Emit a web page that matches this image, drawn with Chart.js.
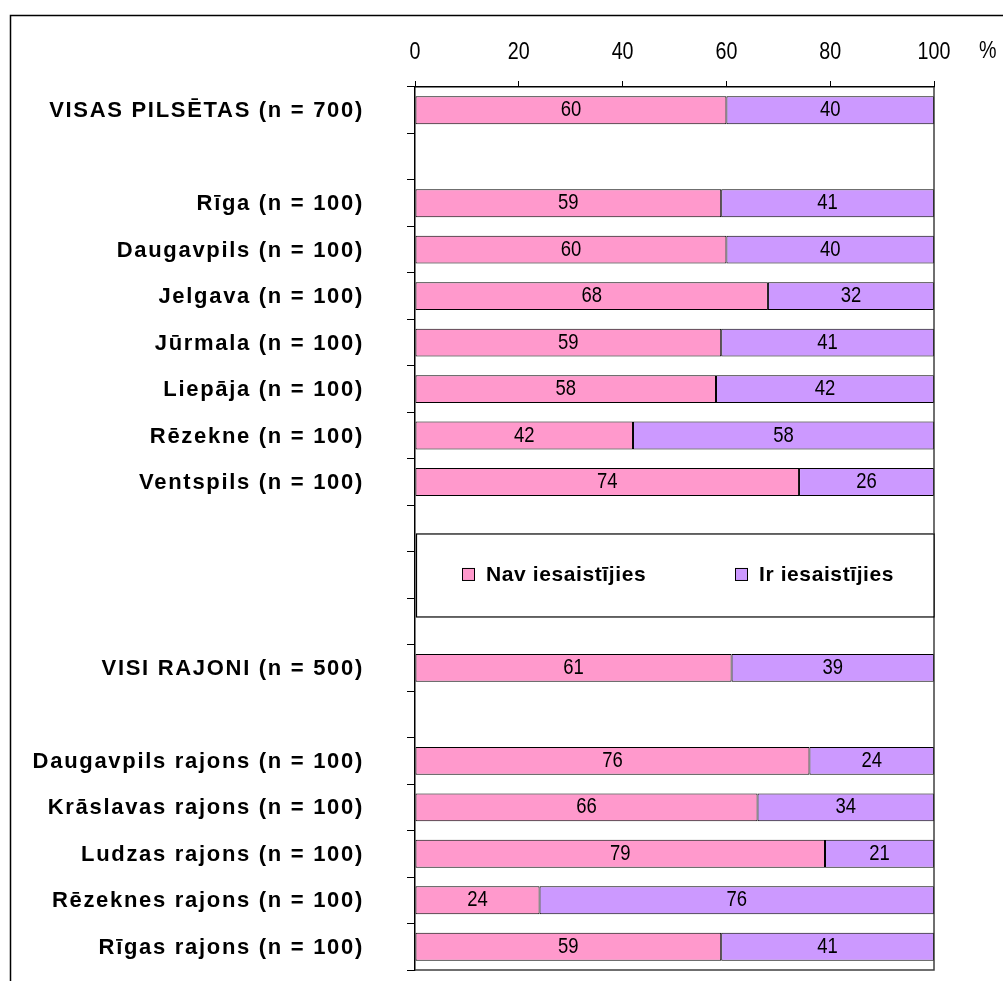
<!DOCTYPE html>
<html>
<head>
<meta charset="utf-8">
<script src="https://cdn.jsdelivr.net/npm/chart.js@4.4.1/dist/chart.umd.min.js"></script>
<style>
    html, body { margin: 0; padding: 0; background: #fff; }
    #wrap { width: 1003px; height: 981px; }
</style>
</head>
<body>
<div id="wrap"><canvas id="chart" width="1003" height="981"></canvas></div>
<script>
// data (empty rows are spacers, one of them holds the legend)
const categories = [
    'VISAS PILSĒTAS (n = 700)', '',
    'Rīga (n = 100)', 'Daugavpils (n = 100)', 'Jelgava (n = 100)', 'Jūrmala (n = 100)',
    'Liepāja (n = 100)', 'Rēzekne (n = 100)', 'Ventspils (n = 100)',
    '', '', '',
    'VISI RAJONI (n = 500)', '',
    'Daugavpils rajons (n = 100)', 'Krāslavas rajons (n = 100)', 'Ludzas rajons (n = 100)',
    'Rēzeknes rajons (n = 100)', 'Rīgas rajons (n = 100)'
];
const navIesaistijies = [60, null, 59, 60, 68, 59, 58, 42, 74, null, null, null, 61, null, 76, 66, 79, 24, 59];
const irIesaistijies  = [40, null, 41, 40, 32, 41, 42, 58, 26, null, null, null, 39, null, 24, 34, 21, 76, 41];
const seriesNames = ['Nav iesaistījies', 'Ir iesaistījies'];
const xTickValues = [0, 20, 40, 60, 80, 100];
const legendRow = 10;

const baseFont = "'Liberation Sans', Arial, sans-serif";

// the original uses a narrow face; squeeze regular text horizontally instead
function narrowText(ctx, text, x, y, squeeze) {
    ctx.save();
    ctx.translate(x, y);
    ctx.scale(squeeze, 1);
    ctx.fillText(text, 0, 0);
    ctx.restore();
}

const decorations = {
    id: 'decorations',
    beforeDraw(chart) {
        const ctx = chart.ctx;
        ctx.save();
        ctx.fillStyle = '#fff';
        ctx.fillRect(0, 0, chart.width, chart.height);
        // page frame
        ctx.strokeStyle = '#000';
        ctx.lineWidth = 1.5;
        ctx.beginPath();
        ctx.moveTo(10.5, chart.height);
        ctx.lineTo(10.5, 15.5);
        ctx.lineTo(chart.width, 15.5);
        ctx.stroke();
        ctx.restore();
    },
    afterDatasetsDraw(chart) {
        const ctx = chart.ctx;
        ctx.save();
        ctx.font = `22px ${baseFont}`;
        ctx.fillStyle = '#000';
        ctx.textAlign = 'center';
        ctx.textBaseline = 'middle';
        chart.data.datasets.forEach((ds, di) => {
            chart.getDatasetMeta(di).data.forEach((bar, i) => {
                if (ds.data[i] == null) return;
                const p = bar.getProps(['x', 'y', 'base'], true);
                narrowText(ctx, String(ds.data[i]), (p.x + p.base) / 2, p.y, 0.84);
            });
        });
        ctx.restore();
    },
    afterDraw(chart) {
        const ctx = chart.ctx;
        const area = chart.chartArea;
        const xs = chart.scales.x;
        const ys = chart.scales.y;
        ctx.save();

        // right and bottom edge of plot area
        ctx.strokeStyle = '#404040';
        ctx.lineWidth = 1.5;
        ctx.beginPath();
        ctx.moveTo(area.left, area.bottom);
        ctx.lineTo(area.right, area.bottom);
        ctx.lineTo(area.right, area.top);
        ctx.stroke();

        // top axis labels and the percent sign
        ctx.fillStyle = '#000';
        ctx.font = `24px ${baseFont}`;
        ctx.textAlign = 'center';
        ctx.textBaseline = 'middle';
        xs.ticks.forEach(t => {
            narrowText(ctx, String(t.value), xs.getPixelForValue(t.value), 52, 0.82);
        });
        ctx.textAlign = 'left';
        narrowText(ctx, '%', xs.right + 45, 51, 0.82);

        // category labels
        ctx.font = `bold 22px ${baseFont}`;
        ctx.letterSpacing = '1.7px';
        ctx.textAlign = 'right';
        categories.forEach((label, i) => {
            if (!label) return;
            ctx.fillText(label, area.left - 51, ys.getPixelForValue(i) + 1);
        });

        // legend box sitting in the spacer rows
        ctx.letterSpacing = '0px';
        const cy = ys.getPixelForValue(legendRow);
        const boxH = 83;
        ctx.fillStyle = '#fff';
        ctx.fillRect(area.left + 1, cy - boxH / 2, area.right - area.left - 1, boxH);
        ctx.strokeStyle = '#000';
        ctx.lineWidth = 1.2;
        ctx.strokeRect(area.left + 1.5, cy - boxH / 2 + 0.5, area.right - area.left - 1.5, boxH);

        const itemX = [area.left + 47, area.left + 320];
        ctx.font = `bold 21px ${baseFont}`;
        ctx.letterSpacing = '0.6px';
        ctx.textAlign = 'left';
        chart.data.datasets.forEach((ds, di) => {
            const x = itemX[di];
            ctx.fillStyle = ds.backgroundColor;
            ctx.fillRect(x, cy - 7, 13, 13);
            ctx.strokeStyle = '#000';
            ctx.lineWidth = 1;
            ctx.strokeRect(x + 0.5, cy - 6.5, 12, 12);
            ctx.fillStyle = '#000';
            ctx.fillText(ds.label, x + 24, cy);
        });
        ctx.restore();
    }
};

new Chart(document.getElementById('chart'), {
    type: 'bar',
    data: {
        labels: categories,
        datasets: [
            {
                label: seriesNames[0],
                data: navIesaistijies,
                backgroundColor: '#FF99CC',
                borderColor: '#000',
                borderWidth: 1,
                borderSkipped: false
            },
            {
                label: seriesNames[1],
                data: irIesaistijies,
                backgroundColor: '#CC99FF',
                borderColor: '#000',
                borderWidth: 1,
                borderSkipped: false
            }
        ]
    },
    options: {
        indexAxis: 'y',
        responsive: false,
        animation: false,
        devicePixelRatio: 1,
        datasets: { bar: { barPercentage: 0.6, categoryPercentage: 1 } },
        layout: { padding: { left: 405, right: 69, top: 37, bottom: 11 } },
        plugins: { legend: { display: false }, tooltip: { enabled: false } },
        scales: {
            x: {
                position: 'top',
                stacked: true,
                min: 0,
                max: 100,
                afterBuildTicks: s => { s.ticks = xTickValues.map(v => ({ value: v })); },
                afterFit: s => { s.height = 50; },
                grid: { drawOnChartArea: false, tickLength: 6, color: '#000', lineWidth: 1 },
                border: { color: '#000', width: 1.5 },
                ticks: { display: false }
            },
            y: {
                stacked: true,
                afterFit: s => { s.width = 10; },
                grid: { drawOnChartArea: false, offset: true, tickLength: 8, color: '#000', lineWidth: 1 },
                border: { color: '#000', width: 1.5 },
                ticks: { display: false }
            }
        }
    },
    plugins: [decorations]
});
</script>
</body>
</html>
